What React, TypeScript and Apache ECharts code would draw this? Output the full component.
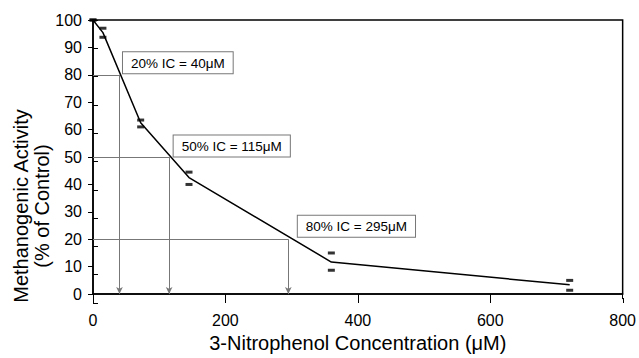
import React, { useEffect, useRef } from "react";
import * as echarts from "echarts";

// 3-Nitrophenol concentration (µM)
const concentrations = [0, 15, 72, 145, 360, 720];
// replicate measurements (% of control)
const replicateA = [100, 97, 63.5, 44.5, 15, 5];
const replicateB = [100, 93.7, 61, 40, 8.7, 1.4];
// fitted/mean curve (% of control)
const curveActivity = [100, 95.4, 62.5, 42.5, 11.7, 3.4];

// inhibition levels
const icActivityLevels = [80, 50, 20];
const icConcentrations = [40, 115, 295];
const icLabels = ["20% IC = 40μM", "50% IC = 115μM", "80% IC = 295μM"];

const xTickMin = 0;
const xTickMax = 800;
const xTickStep = 200;
const yTickMin = 0;
const yTickMax = 100;
const yTickStep = 10;

const xTitle = "3-Nitrophenol Concentration (μM)";
const yTitle = "Methanogenic Activity\n(% of Control)";

export default function App() {
  const ref = useRef<HTMLDivElement>(null);

  useEffect(() => {
    if (!ref.current) return;
    const chart = echarts.init(ref.current, null, { renderer: "svg" });
    const font = "'Liberation Sans', Arial, Helvetica, sans-serif";
    const gridRect = { left: 93, right: 16, top: 20, bottom: 55 };

    const refLines: any[] = [];
    icActivityLevels.forEach((lvl, i) => {
      const c = icConcentrations[i];
      refLines.push([
        { coord: [0, lvl], symbol: "none" },
        { coord: [c, lvl], symbol: "none" },
      ]);
      refLines.push([
        { coord: [c, lvl], symbol: "none" },
        { coord: [c, 0], symbol: "arrow" },
      ]);
    });

    const labelOffsets = [
      [4, -1],
      [5, 0],
      [10, -2],
    ];
    const icPoints = icActivityLevels.map((lvl, i) => ({
      name: icLabels[i],
      coord: [icConcentrations[i], lvl],
      label: { position: labelOffsets[i] },
    }));

    const pairs = (ys: number[]) => concentrations.map((x, i) => [x, ys[i]]);

    const baseX = {
      type: "value",
      min: xTickMin,
      max: xTickMax,
      interval: xTickStep,
      splitLine: { show: false },
    };
    const baseY = {
      type: "value",
      min: yTickMin,
      max: yTickMax,
      interval: yTickStep,
      splitLine: { show: false },
    };

    chart.setOption({
      animation: false,
      backgroundColor: "#ffffff",
      grid: [
        {
          ...gridRect,
          show: true,
          borderColor: "#000",
          borderWidth: 1.5,
          backgroundColor: "transparent",
        },
        { ...gridRect },
      ],
      xAxis: [
        {
          ...baseX,
          gridIndex: 0,
          axisLine: { lineStyle: { color: "#000", width: 1.5 } },
          axisTick: { length: 5, lineStyle: { color: "#000", width: 1 } },
          axisLabel: { color: "#000", fontSize: 16, fontFamily: font, margin: 18 },
          name: xTitle,
          nameLocation: "middle",
          nameGap: 30,
          nameTextStyle: { color: "#000", fontSize: 20, fontFamily: font },
        },
        {
          ...baseX,
          gridIndex: 1,
          axisLine: { show: false },
          axisTick: { inside: true, length: 5, lineStyle: { color: "#000", width: 1 } },
          axisLabel: { show: false },
        },
      ],
      yAxis: [
        {
          ...baseY,
          gridIndex: 0,
          axisLine: { lineStyle: { color: "#000", width: 1.5 } },
          axisTick: { length: 5, lineStyle: { color: "#000", width: 1 } },
          axisLabel: { color: "#000", fontSize: 16, fontFamily: font, margin: 11 },
        },
        {
          ...baseY,
          gridIndex: 1,
          axisLine: { show: false },
          axisTick: { inside: true, length: 5, lineStyle: { color: "#000", width: 1 } },
          axisLabel: { show: false },
        },
      ],
      graphic: [
        {
          type: "text",
          x: 31,
          y: 206,
          rotation: Math.PI / 2,
          silent: true,
          style: {
            text: yTitle,
            fill: "#000",
            fontSize: 20,
            fontFamily: font,
            align: "center",
            verticalAlign: "middle",
            lineHeight: 21,
          },
        },
      ],
      series: [
        {
          type: "line",
          xAxisIndex: 0,
          yAxisIndex: 0,
          data: pairs(curveActivity),
          showSymbol: false,
          symbol: "none",
          lineStyle: { color: "#000", width: 1.5 },
          silent: true,
          z: 3,
          markLine: {
            silent: true,
            symbol: ["none", "none"],
            symbolSize: [5, 7],
            label: { show: false },
            lineStyle: { color: "#777", width: 1, type: "solid" },
            emphasis: { disabled: true },
            data: refLines,
          },
          markPoint: {
            silent: true,
            symbol: "circle",
            symbolSize: 1,
            itemStyle: { color: "transparent" },
            label: {
              show: true,
              formatter: "{b}",
              color: "#000",
              fontSize: 13.5,
              fontFamily: font,
              backgroundColor: "#fff",
              borderColor: "#777",
              borderWidth: 1,
              padding: [4, 8, 3, 8],
              align: "left",
              verticalAlign: "bottom",
            },
            data: icPoints,
          },
        },
        {
          type: "scatter",
          xAxisIndex: 0,
          yAxisIndex: 0,
          data: pairs(replicateA),
          symbol: "rect",
          symbolSize: [7, 3],
          itemStyle: { color: "#000" },
          silent: true,
          z: 4,
        },
        {
          type: "scatter",
          xAxisIndex: 0,
          yAxisIndex: 0,
          data: pairs(replicateB),
          symbol: "rect",
          symbolSize: [7, 3],
          itemStyle: { color: "#000" },
          silent: true,
          z: 4,
        },
      ],
    });

    return () => chart.dispose();
  }, []);

  return (
    <div
      ref={ref}
      style={{ position: "fixed", left: 0, top: 0, width: 639, height: 358, background: "#fff" }}
    />
  );
}
